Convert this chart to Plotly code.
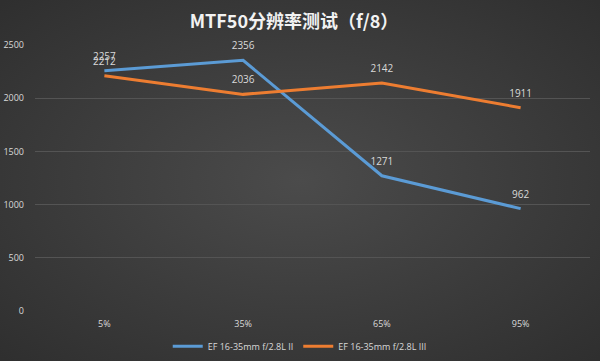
import plotly.graph_objects as go
import base64

categories = ["5%", "35%", "65%", "95%"]
series_ii = [2257, 2356, 1271, 962]
series_iii = [2212, 2036, 2142, 1911]
name_ii = "EF 16-35mm f/2.8L II"
name_iii = "EF 16-35mm f/2.8L III"
title = "MTF50分辨率测试（f/8）"
y_ticks = [0, 500, 1000, 1500, 2000, 2500]

svg = ('<svg xmlns="http://www.w3.org/2000/svg" width="600" height="361" preserveAspectRatio="none">'
       '<defs><radialGradient id="g" cx="50%" cy="50%" r="70%">'
       '<stop offset="0%" stop-color="#4b4b4b"/><stop offset="100%" stop-color="#2f2f2f"/>'
       '</radialGradient></defs><rect width="600" height="361" fill="url(#g)"/></svg>')
bg_src = "data:image/svg+xml;base64," + base64.b64encode(svg.encode()).decode()

font = "Open Sans, Noto Sans CJK SC, sans-serif"

fig = go.Figure()
for name, vals, color in [(name_ii, series_ii, "#5b9bd5"), (name_iii, series_iii, "#ed7d31")]:
    fig.add_trace(go.Scatter(
        x=categories, y=vals, name=name, mode="lines+markers+text",
        line=dict(color=color, width=3),
        marker=dict(size=12, color="rgba(0,0,0,0)", line=dict(width=0)),
        text=[str(v) for v in vals], textposition="top center",
        textfont=dict(color="#d9d9d9", size=10), cliponaxis=False))

fig.update_layout(
    width=600, height=361, autosize=False,
    margin=dict(l=35, r=10, t=45, b=50, autoexpand=False),
    paper_bgcolor="#3f3f3f", plot_bgcolor="rgba(0,0,0,0)",
    font=dict(family=font, color="#d9d9d9", size=9),
    title=dict(text="<b>" + title + "</b>", x=0.49, xanchor="center", y=1 - 22/361, yanchor="middle",
               font=dict(size=18, color="#f2f2f2", family="Noto Sans CJK SC, sans-serif")),
    showlegend=True,
    legend=dict(orientation="h", x=0.477, xanchor="center",
                y=-35/265, yanchor="middle", font=dict(size=9, color="#d9d9d9"),
                bgcolor="rgba(0,0,0,0)"),
    xaxis=dict(type="category", range=[-0.5, 3.5], showgrid=False, zeroline=False,
               showline=False, ticks="", tickfont=dict(size=9, color="#d9d9d9"),
               ticklabelstandoff=6),
    yaxis=dict(range=[0, 2500], tickvals=y_ticks, showgrid=True, gridcolor="#545454",
               gridwidth=1, zeroline=False, showline=False, ticks="",
               tickfont=dict(size=9, color="#d9d9d9"), ticklabelstandoff=10),
    images=[dict(source=bg_src, xref="paper", yref="paper", x=-35/555, y=1 + 45/266,
                 sizex=600/555, sizey=361/266, xanchor="left", yanchor="top",
                 sizing="stretch", layer="below")],
)
fig.write_html("out.html", config={"displayModeBar": False},
               post_script="document.body.style.margin='0';document.body.style.padding='0';")
